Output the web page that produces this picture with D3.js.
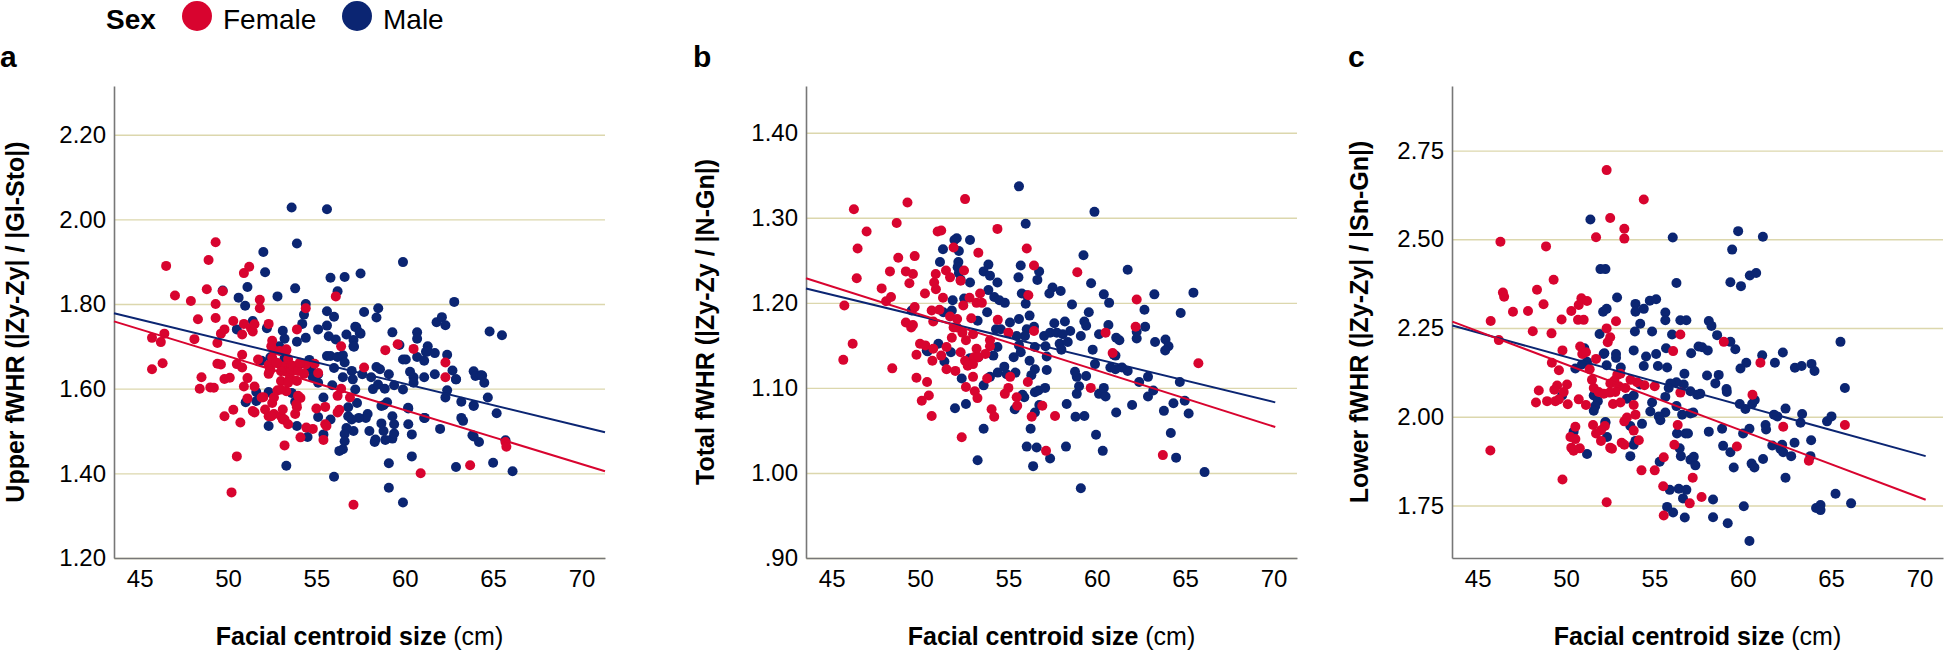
<!DOCTYPE html>
<meta charset="UTF-8">
<script src="https://cdn.jsdelivr.net/npm/d3@7"></script>
<style>
  body { margin: 0; background: #fff; }
  text { font-family: "Liberation Sans", Arial, sans-serif; }
</style>
<body>
<div id="chart"></div>
<script>

// ---- data ----
const sexes = ["Female", "Male"];
const panelLetters = ["a", "b", "c"];
const yTitles = ["Upper fWHR (|Zy-Zy| / |Gl-Sto|)", "Total fWHR (|Zy-Zy / |N-Gn|)", "Lower fWHR (|Zy-Zy| / |Sn-Gn|)"];
const xTitle = "Facial centroid size";
const xUnit = "(cm)";

const xTicks = [45, 50, 55, 60, 65, 70];
const yTicksA = [1.20, 1.40, 1.60, 1.80, 2.00, 2.20];
const yLabelsA = ["1.20", "1.40", "1.60", "1.80", "2.00", "2.20"];
const yTicksB = [0.90, 1.00, 1.10, 1.20, 1.30, 1.40];
const yLabelsB = [".90", "1.00", "1.10", "1.20", "1.30", "1.40"];
const yTicksC = [1.75, 2.00, 2.25, 2.50, 2.75];
const yLabelsC = ["1.75", "2.00", "2.25", "2.50", "2.75"];

// panel a: upper fWHR
const upperFemale = [[46.5,1.89],[45.7,1.72],[46.2,1.71],[46.4,1.73],[45.7,1.646],[46.3,1.66],[47.0,1.82],[47.9,1.807],[48.1,1.717],[48.3,1.764],[48.5,1.627],[48.4,1.60],[48.8,1.835],[48.9,1.904],[49.3,1.946],[49.3,1.80],[49.3,1.767],[49.4,1.708],[49.4,1.659],[49.0,1.603],[49.2,1.602],[49.7,1.83],[49.6,1.73],[49.8,1.74],[49.6,1.657],[49.8,1.623],[50.1,1.626],[49.8,1.535],[50.3,1.76],[50.5,1.658],[50.3,1.55],[50.7,1.52],[50.9,1.873],[50.9,1.753],[50.8,1.728],[50.8,1.68],[50.8,1.65],[50.9,1.605],[51.1,1.625],[51.2,1.888],[51.1,1.577],[51.3,1.743],[51.4,1.735],[51.5,1.752],[51.5,1.605],[51.5,1.544],[51.8,1.81],[51.8,1.79],[51.7,1.669],[52.0,1.58],[50.5,1.44],[50.2,1.355],[52.3,1.753],[52.3,1.656],[52.4,1.645],[52.3,1.635],[52.3,1.535],[52.5,1.713],[52.6,1.69],[52.5,1.673],[52.5,1.566],[52.6,1.54],[52.8,1.66],[52.8,1.596],[53.0,1.535],[53.0,1.618],[53.1,1.527],[53.2,1.466],[53.3,1.594],[53.3,1.69],[53.2,1.653],[53.3,1.64],[53.4,1.67],[53.5,1.625],[53.6,1.655],[53.6,1.642],[53.9,1.74],[53.9,1.618],[53.8,1.54],[53.9,1.556],[54.1,1.578],[54.1,1.485],[54.4,1.79],[54.3,1.635],[54.4,1.657],[54.9,1.659],[55.1,1.637],[55.0,1.553],[54.8,1.505],[55.5,1.557],[55.5,1.516],[55.4,1.479],[56.1,1.818],[56.4,1.70],[56.4,1.60],[56.2,1.583],[56.3,1.55],[56.2,1.544],[56.9,1.579],[57.1,1.326],[57.7,1.65],[58.9,1.691],[59.6,1.705],[60.5,1.694],[60.9,1.40],[62.3,1.662],[62.3,1.627],[63.7,1.419],[65.7,1.474],[65.75,1.463],[52.45,1.70],[52.92,1.689],[53.3,1.693],[53.68,1.653],[53.96,1.642],[54.06,1.661],[53.0,1.641],[52.74,1.661],[52.36,1.642],[53.4,1.614],[53.0,1.598],[52.6,1.579],[51.9,1.579],[52.1,1.551],[51.4,1.547],[52.45,1.535],[53.1,1.551],[53.87,1.563],[53.96,1.583],[55.57,1.512],[54.43,1.508],[53.2,1.527],[53.4,1.516]];
const upperMale = [[53.6,2.028],[55.6,2.024],[53.9,1.943],[52.0,1.923],[52.1,1.875],[59.9,1.899],[49.7,1.832],[50.6,1.815],[51.1,1.84],[52.8,1.818],[53.8,1.837],[55.8,1.862],[56.6,1.864],[57.5,1.872],[56.2,1.83],[50.97,1.796],[54.4,1.80],[54.3,1.775],[54.2,1.753],[58.5,1.79],[57.7,1.781],[55.6,1.783],[56.0,1.77],[62.8,1.805],[50.5,1.74],[51.4,1.76],[52.2,1.743],[53.1,1.737],[53.2,1.718],[53.9,1.711],[54.4,1.72],[55.1,1.74],[55.6,1.749],[55.7,1.724],[56.1,1.716],[56.7,1.728],[57.2,1.746],[57.5,1.73],[57.1,1.715],[57.1,1.70],[58.4,1.768],[59.3,1.733],[59.7,1.703],[60.7,1.733],[60.7,1.718],[61.3,1.70],[61.8,1.757],[62.1,1.769],[62.3,1.75],[62.4,1.68],[64.8,1.735],[65.5,1.726],[52.9,1.70],[52.4,1.674],[51.9,1.666],[53.2,1.672],[54.1,1.659],[54.6,1.668],[54.7,1.645],[54.8,1.627],[55.1,1.634],[55.6,1.677],[55.8,1.677],[56.2,1.675],[56.5,1.679],[56.6,1.662],[56.0,1.649],[55.9,1.608],[56.5,1.627],[57.0,1.642],[57.6,1.634],[58.1,1.627],[58.2,1.599],[58.4,1.651],[58.6,1.646],[59.1,1.634],[59.4,1.608],[59.9,1.669],[59.9,1.598],[60.3,1.64],[60.5,1.627],[60.5,1.614],[60.7,1.675],[61.1,1.666],[61.1,1.627],[61.3,1.688],[61.7,1.684],[61.7,1.634],[62.4,1.596],[62.3,1.579],[62.9,1.622],[62.7,1.643],[63.2,1.569],[63.2,1.531],[63.3,1.524],[63.9,1.641],[64.0,1.63],[64.3,1.632],[64.5,1.614],[63.9,1.561],[64.7,1.579],[65.2,1.542],[63.9,1.487],[64.2,1.474],[65.7,1.478],[65.0,1.425],[62.9,1.415],[66.1,1.405],[62.0,1.505],[61.1,1.531],[60.4,1.492],[60.2,1.516],[60.2,1.553],[60.4,1.44],[59.9,1.331],[59.1,1.366],[59.1,1.424],[59.3,1.482],[58.8,1.50],[58.9,1.479],[58.3,1.474],[59.3,1.535],[59.4,1.516],[58.8,1.561],[59.0,1.568],[57.9,1.54],[57.8,1.531],[57.3,1.566],[57.4,1.531],[57.1,1.50],[56.7,1.507],[56.6,1.493],[56.6,1.476],[56.5,1.457],[56.3,1.453],[56.0,1.392],[56.8,1.535],[56.8,1.556],[55.8,1.527],[55.4,1.492],[55.1,1.533],[55.4,1.579],[55.1,1.614],[54.5,1.486],[53.9,1.512],[53.3,1.418],[52.3,1.512],[52.3,1.592],[51.6,1.592],[51.0,1.568],[51.6,1.571],[53.6,1.59],[53.8,1.569],[57.26,1.745],[57.45,1.732],[57.13,1.699],[61.2,1.687],[60.06,1.669],[62.9,1.622],[64.38,1.631],[57.06,1.622],[57.2,1.598],[58.49,1.61],[58.87,1.60],[63.9,1.559],[58.68,1.559],[60.19,1.555],[61.13,1.531],[58.68,1.518],[57.0,1.527],[58.0,1.50],[58.34,1.48],[59.4,1.494],[63.83,1.49]];

// panel b: total fWHR
const totalFemale = [[46.26,1.31],[46.98,1.284],[46.47,1.264],[46.42,1.229],[45.72,1.197],[47.83,1.217],[48.3,1.237],[48.08,1.202],[48.36,1.207],[48.68,1.294],[48.77,1.253],[46.19,1.152],[45.66,1.133],[48.43,1.123],[49.29,1.318],[52.55,1.322],[51.0,1.284],[51.2,1.285],[54.38,1.287],[51.9,1.265],[49.7,1.255],[53.3,1.259],[56.04,1.264],[49.2,1.237],[49.6,1.234],[50.89,1.234],[51.47,1.238],[51.7,1.23],[52.49,1.238],[52.3,1.226],[56.45,1.244],[58.9,1.236],[49.4,1.223],[50.8,1.224],[50.9,1.216],[50.28,1.211],[51.3,1.206],[52.45,1.197],[52.8,1.206],[53.4,1.211],[53.2,1.20],[53.5,1.20],[56.13,1.209],[49.7,1.195],[50.66,1.191],[51.1,1.192],[51.7,1.184],[52.1,1.181],[52.9,1.182],[54.4,1.18],[62.26,1.204],[62.2,1.172],[49.2,1.177],[49.5,1.171],[49.6,1.174],[50.75,1.178],[51.9,1.171],[52.1,1.171],[52.4,1.165],[55.0,1.165],[56.45,1.167],[60.5,1.165],[51.8,1.159],[52.6,1.156],[53.0,1.163],[53.96,1.156],[50.0,1.152],[50.3,1.15],[51.5,1.148],[50.75,1.146],[53.2,1.146],[52.3,1.142],[53.96,1.149],[49.8,1.139],[51.2,1.138],[50.7,1.132],[52.55,1.132],[53.06,1.136],[53.3,1.136],[53.7,1.14],[52.7,1.126],[53.0,1.128],[60.9,1.141],[51.5,1.122],[52.0,1.12],[49.8,1.112],[50.4,1.107],[53.0,1.113],[53.8,1.111],[55.1,1.113],[56.1,1.107],[52.6,1.101],[55.0,1.10],[54.8,1.093],[53.1,1.096],[53.25,1.088],[50.5,1.091],[50.1,1.085],[59.66,1.10],[55.47,1.089],[55.5,1.079],[54.05,1.075],[54.2,1.066],[56.92,1.079],[56.32,1.066],[57.64,1.067],[50.66,1.067],[52.36,1.042],[57.13,1.026],[63.74,1.021],[65.75,1.129]];
const totalMale = [[55.6,1.337],[59.87,1.307],[55.98,1.293],[52.08,1.276],[51.95,1.274],[52.83,1.274],[51.3,1.263],[52.2,1.261],[51.13,1.248],[52.17,1.248],[52.13,1.242],[53.87,1.245],[53.6,1.237],[53.96,1.232],[54.38,1.224],[55.7,1.244],[55.57,1.23],[56.74,1.237],[56.64,1.227],[59.25,1.256],[59.68,1.223],[61.75,1.239],[57.5,1.218],[57.32,1.211],[57.96,1.214],[60.4,1.21],[60.7,1.20],[63.26,1.21],[65.47,1.212],[64.75,1.188],[62.7,1.192],[62.74,1.172],[62.26,1.166],[62.26,1.158],[63.3,1.154],[63.89,1.157],[64.06,1.149],[63.87,1.144],[51.85,1.203],[52.3,1.227],[52.83,1.224],[52.2,1.235],[51.8,1.191],[52.5,1.205],[53.26,1.179],[53.87,1.215],[53.8,1.189],[54.2,1.207],[54.49,1.203],[54.8,1.20],[54.3,1.169],[54.57,1.169],[55.09,1.177],[55.6,1.181],[56.2,1.185],[55.98,1.199],[56.04,1.209],[55.76,1.211],[56.04,1.169],[55.94,1.161],[55.47,1.161],[56.45,1.172],[57.6,1.176],[58.2,1.178],[58.5,1.167],[58.6,1.198],[59.55,1.189],[59.3,1.178],[59.4,1.173],[59.1,1.161],[60.13,1.163],[60.66,1.174],[61.1,1.159],[61.28,1.156],[57.02,1.161],[57.36,1.165],[57.74,1.165],[58.08,1.163],[57.9,1.152],[58.0,1.145],[58.36,1.154],[57.1,1.149],[57.17,1.137],[56.5,1.148],[55.6,1.15],[55.3,1.136],[55.7,1.142],[54.38,1.148],[54.15,1.138],[52.83,1.135],[53.3,1.136],[51.04,1.152],[51.38,1.131],[51.75,1.142],[50.43,1.143],[59.77,1.145],[59.9,1.128],[60.96,1.139],[61.43,1.124],[61.06,1.138],[61.75,1.12],[60.77,1.124],[61.06,1.122],[62.4,1.107],[62.9,1.113],[62.9,1.09],[63.2,1.097],[64.7,1.107],[64.98,1.085],[65.2,1.07],[64.34,1.082],[63.8,1.073],[64.19,1.047],[64.49,1.018],[66.1,1.001],[62.0,1.08],[61.1,1.071],[59.96,1.045],[60.34,1.026],[58.3,1.081],[58.8,1.066],[59.3,1.067],[58.87,1.093],[59.0,1.102],[58.87,1.113],[58.77,1.119],[59.4,1.114],[60.13,1.093],[60.5,1.09],[60.4,1.10],[59.1,0.982],[58.26,1.031],[57.36,1.017],[56.4,1.008],[56.6,1.03],[56.04,1.031],[56.26,1.052],[56.5,1.071],[56.75,1.08],[56.5,1.095],[56.7,1.097],[57.08,1.10],[57.17,1.121],[56.5,1.122],[56.3,1.115],[56.2,1.132],[55.9,1.089],[55.8,1.092],[55.36,1.075],[55.4,1.118],[54.77,1.125],[54.4,1.118],[54.9,1.116],[53.6,1.052],[53.26,1.015],[52.6,1.081],[51.98,1.076],[52.36,1.111],[53.6,1.103],[53.96,1.113],[50.38,1.144],[51.32,1.189],[49.53,1.191]];

// panel c: lower fWHR
const lowerFemale = [[46.29,2.493],[48.87,2.48],[49.3,2.386],[48.36,2.358],[46.43,2.35],[46.5,2.338],[48.73,2.317],[47.85,2.298],[47.0,2.296],[45.74,2.27],[46.2,2.216],[48.12,2.241],[49.18,2.235],[49.75,2.274],[50.3,2.298],[50.72,2.315],[50.87,2.334],[51.19,2.326],[50.68,2.273],[51.0,2.273],[49.8,2.187],[49.2,2.152],[49.6,2.131],[50.8,2.198],[50.92,2.177],[51.13,2.182],[49.5,2.088],[49.34,2.076],[50.06,2.091],[49.87,2.07],[48.46,2.074],[48.3,2.04],[48.93,2.044],[49.4,2.044],[49.6,2.049],[50.1,2.035],[50.72,2.049],[51.13,2.033],[51.34,2.134],[51.47,2.104],[51.57,2.081],[51.85,2.07],[51.7,2.163],[52.36,2.21],[52.5,2.224],[52.3,2.249],[52.2,1.974],[51.98,1.962],[51.53,1.977],[51.7,1.953],[51.98,1.932],[50.25,1.943],[50.53,1.972],[50.3,1.913],[50.53,1.937],[50.43,1.904],[50.78,1.911],[52.5,1.913],[45.72,1.905],[49.8,1.823],[52.3,1.759],[52.3,2.695],[52.5,2.56],[51.7,2.506],[54.4,2.612],[53.3,2.53],[53.3,2.502],[52.83,2.269],[56.47,2.232],[58.93,2.211],[56.06,2.185],[61.0,2.152],[60.55,2.062],[56.47,2.068],[55.02,2.086],[62.29,1.972],[65.78,1.977],[63.74,1.876],[59.67,1.916],[56.13,1.921],[56.32,1.977],[55.53,1.886],[55.02,1.849],[54.27,1.849],[55.5,1.804],[57.17,1.828],[57.67,1.774],[57.0,1.756],[55.53,1.722],[53.15,1.927],[53.3,1.921],[52.6,1.91],[54.12,1.934],[53.83,1.961],[53.3,1.987],[53.45,1.998],[53.93,2.006],[53.83,2.033],[52.66,2.036],[53.08,2.04],[54.44,2.089],[54.02,2.097],[53.65,2.104],[52.9,2.118],[53.08,2.121],[52.51,2.094],[52.74,2.102],[53.0,2.086],[53.36,2.081],[52.79,2.07],[52.47,2.068],[52.14,2.065]];
const lowerMale = [[51.38,2.556],[51.95,2.416],[52.23,2.416],[52.1,2.296],[52.3,2.304],[51.9,2.233],[51.04,2.193],[52.17,2.179],[51.19,2.155],[50.53,2.136],[50.9,2.147],[52.3,2.145],[51.57,2.06],[51.8,2.044],[51.66,2.03],[51.57,2.017],[52.23,1.985],[51.19,1.895],[50.43,1.958],[49.78,2.06],[56.04,2.505],[59.74,2.523],[61.14,2.507],[59.4,2.471],[59.3,2.379],[59.9,2.368],[60.4,2.398],[60.76,2.405],[56.25,2.377],[52.89,2.336],[53.93,2.318],[53.93,2.296],[54.4,2.304],[54.2,2.262],[54.74,2.327],[55.1,2.331],[55.62,2.294],[55.62,2.272],[56.47,2.272],[56.81,2.272],[54.87,2.24],[56.0,2.232],[53.9,2.24],[58.08,2.27],[58.23,2.256],[58.55,2.23],[59.3,2.211],[59.58,2.19],[57.5,2.198],[57.7,2.196],[58.02,2.187],[57.08,2.179],[55.66,2.193],[55.1,2.177],[53.83,2.187],[52.83,2.177],[52.83,2.166],[52.13,2.177],[54.53,2.17],[54.4,2.143],[55.2,2.143],[55.72,2.139],[53.1,2.139],[61.1,2.173],[62.27,2.181],[61.82,2.152],[60.2,2.152],[59.87,2.136],[62.95,2.138],[63.33,2.143],[63.89,2.149],[64.06,2.129],[65.53,2.211],[65.78,2.081],[56.7,2.121],[57.98,2.116],[58.64,2.118],[58.45,2.094],[59.08,2.078],[59.1,2.07],[57.6,2.065],[57.42,2.062],[57.04,2.072],[56.66,2.091],[56.25,2.097],[55.9,2.094],[55.81,2.081],[55.62,2.056],[55.62,2.012],[56.25,2.03],[56.57,2.006],[57.04,2.009],[57.2,2.012],[54.87,2.04],[54.77,2.015],[55.25,2.001],[55.34,1.99],[53.83,2.06],[53.45,2.051],[54.2,2.091],[53.64,1.974],[54.3,1.98],[52.23,1.983],[52.32,1.943],[53.83,1.921],[53.93,1.932],[53.64,1.889],[55.3,1.873],[56.43,1.911],[56.28,1.953],[56.76,1.953],[56.9,1.953],[56.5,1.889],[57.04,1.879],[57.32,1.863],[57.23,1.887],[58.08,1.958],[58.83,1.966],[58.89,1.918],[59.3,1.9],[59.49,1.857],[60.02,1.953],[60.38,1.966],[60.15,2.022],[60.53,2.036],[60.68,2.047],[59.83,2.036],[60.5,1.868],[60.66,1.857],[61.15,1.881],[61.29,1.977],[61.32,1.964],[61.67,1.919],[61.77,2.006],[61.96,2.001],[62.29,1.9],[62.23,1.921],[62.42,2.023],[62.13,1.909],[62.74,1.889],[62.93,1.927],[63.36,2.008],[63.27,1.983],[63.87,1.934],[63.83,1.889],[62.42,1.828],[64.77,1.987],[65.02,2.001],[64.15,1.743],[64.4,1.751],[64.4,1.737],[65.25,1.783],[66.13,1.756],[60.06,1.748],[60.38,1.65],[58.32,1.767],[58.32,1.717],[59.15,1.7],[56.72,1.716],[56.06,1.73],[55.72,1.746],[56.38,1.797],[56.62,1.77],[56.81,1.794],[55.87,1.794]];

// fit line end points, [x, y]
const fitUpperFemale = [[43.55, 1.759], [71.33, 1.405]];
const fitUpperMale   = [[43.55, 1.778], [71.33, 1.497]];
const fitTotalFemale = [[43.55, 1.229], [70.1, 1.054]];
const fitTotalMale   = [[43.55, 1.217], [70.1, 1.083]];
const fitLowerFemale = [[43.57, 2.268], [70.35, 1.766]];
const fitLowerMale   = [[43.57, 2.257], [70.35, 1.889]];

// ---- layout ----
const W = 1944, H = 651;
const plotTop = 86, plotBottom = 558, plotWidth = 491;
const colors = { Female: "#d8042f", Male: "#0b2572" };
const xDomain = [43.55, 71.33];

const panels = [
  { letter: panelLetters[0], title: yTitles[0], left: 114, letterX: 0, titleX: 24,
    yDomain: [1.2, 2.315], ticks: yTicksA, labels: yLabelsA,
    female: upperFemale, male: upperMale, fitF: fitUpperFemale, fitM: fitUpperMale },
  { letter: panelLetters[1], title: yTitles[1], left: 806, letterX: 693, titleX: 714,
    yDomain: [0.9, 1.455], ticks: yTicksB, labels: yLabelsB,
    female: totalFemale, male: totalMale, fitF: fitTotalFemale, fitM: fitTotalMale },
  { letter: panelLetters[2], title: yTitles[2], left: 1452, letterX: 1348, titleX: 1368,
    yDomain: [1.602, 2.932], ticks: yTicksC, labels: yLabelsC,
    female: lowerFemale, male: lowerMale, fitF: fitLowerFemale, fitM: fitLowerMale }
];

const svg = d3.select("#chart").append("svg")
    .attr("width", W)
    .attr("height", H);

// legend
const legend = svg.append("g");
legend.append("text")
    .attr("x", 106).attr("y", 29)
    .style("font-size", "28px").style("font-weight", "bold")
    .text("Sex");
const legendX = [197, 357];
sexes.forEach(function(s, i) {
  legend.append("circle")
      .attr("cx", legendX[i]).attr("cy", 16).attr("r", 15)
      .attr("fill", colors[s]);
  legend.append("text")
      .attr("x", legendX[i] + 26).attr("y", 29)
      .style("font-size", "28px")
      .text(s);
});

panels.forEach(function(p) {
  const x = d3.scaleLinear().domain(xDomain).range([0, plotWidth]);
  const y = d3.scaleLinear().domain(p.yDomain).range([plotBottom, plotTop]);

  const g = svg.append("g").attr("transform", "translate(" + p.left + ",0)");

  // gridlines
  g.append("g")
      .call(d3.axisLeft(y).tickValues(p.ticks).tickSize(-plotWidth).tickFormat(""))
      .call(function(s) { s.select(".domain").remove(); })
      .selectAll("line")
        .attr("stroke", "#dcd7ad")
        .attr("stroke-width", 1.4);

  // y axis
  const yAx = g.append("g")
      .call(d3.axisLeft(y).tickValues(p.ticks).tickSize(0).tickSizeOuter(0).tickPadding(8)
              .tickFormat(function(d, i) { return p.labels[i]; }));
  yAx.selectAll("text").style("font-size", "24px").attr("fill", "#000")
      .style("font-family", "'Liberation Sans', Arial, sans-serif");
  yAx.select(".domain").attr("stroke", "#777").attr("stroke-width", 1.6);

  // x axis
  const xAx = g.append("g")
      .attr("transform", "translate(0," + plotBottom + ")")
      .call(d3.axisBottom(x).tickValues(xTicks).tickSize(0).tickSizeOuter(0).tickPadding(12));
  xAx.selectAll("text").style("font-size", "24px").attr("fill", "#000")
      .style("font-family", "'Liberation Sans', Arial, sans-serif");
  xAx.select(".domain").attr("stroke", "#777").attr("stroke-width", 1.6);

  // points: males first, females on top
  g.append("g").selectAll("circle")
    .data(p.male)
    .enter().append("circle")
      .attr("cx", function(d) { return x(d[0]); })
      .attr("cy", function(d) { return y(d[1]); })
      .attr("r", 5)
      .attr("fill", colors.Male);
  g.append("g").selectAll("circle")
    .data(p.female)
    .enter().append("circle")
      .attr("cx", function(d) { return x(d[0]); })
      .attr("cy", function(d) { return y(d[1]); })
      .attr("r", 5)
      .attr("fill", colors.Female);

  // fit lines
  const line = d3.line().x(function(d) { return x(d[0]); }).y(function(d) { return y(d[1]); });
  g.append("path").datum(p.fitM)
      .attr("d", line).attr("fill", "none")
      .attr("stroke", colors.Male).attr("stroke-width", 2);
  g.append("path").datum(p.fitF)
      .attr("d", line).attr("fill", "none")
      .attr("stroke", colors.Female).attr("stroke-width", 2);

  // x title
  const xt = g.append("text")
      .attr("x", plotWidth / 2).attr("y", 645)
      .attr("text-anchor", "middle")
      .style("font-size", "25px");
  xt.append("tspan").style("font-weight", "bold").text(xTitle + " ");
  xt.append("tspan").text(xUnit);

  // y title
  svg.append("text")
      .attr("transform", "translate(" + p.titleX + "," + ((plotTop + plotBottom) / 2) + ") rotate(-90)")
      .attr("text-anchor", "middle")
      .style("font-size", "25px").style("font-weight", "bold")
      .text(p.title);

  // panel letter
  svg.append("text")
      .attr("x", p.letterX).attr("y", 67)
      .style("font-size", "30px").style("font-weight", "bold")
      .text(p.letter);
});
</script>
</body>
